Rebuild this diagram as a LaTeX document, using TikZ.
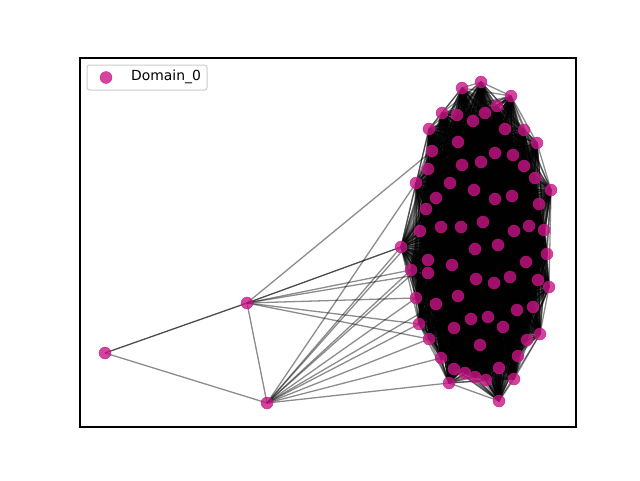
\documentclass[tikz,border=0pt]{standalone}
\usepackage{fontspec}
\setmainfont{DejaVu Sans}
\definecolor{nodec}{HTML}{C71585}
\begin{document}
\begin{tikzpicture}[x=1pt,y=-1pt,
  edge/.style={black,opacity=0.45,line width=1.3pt},
  darkedge/.style={black,opacity=0.7,line width=1.3pt},
  vert/.style={circle,fill=nodec,fill opacity=0.8,draw=nodec,draw opacity=0.8,inner sep=0pt,minimum size=12pt},
  frame/.style={draw=black,line width=1.1pt}]
\useasboundingbox (0,0) rectangle (640,480);
% cluster coordinates
\foreach \k/\x/\y in {1/481/82,2/462/88,3/511/96,4/497/106,5/442/113,6/457/115,7/485/113,8/473/121,9/429/129,10/505/129,11/524/130,12/537/143,13/458/142,14/432/151,15/495/153,16/513/155,17/462/165,18/481/162,19/524/166,20/428/169,21/535/178,22/416/183,23/450/183,24/474/190,25/551/190,26/436/198,27/495/199,28/512/196,29/539/204,30/426/209,31/420/231,32/441/227,33/461/227,34/483/222,35/514/231,36/529/226,37/544/230,38/401/247,39/475/249,40/498/245,41/547/254,42/526/262,43/428/260,44/452/265,45/411/270,46/428/273,47/476/279,48/494/283,49/510/277,50/538/280,51/549/287,52/416/298,53/458/296,54/436/304,55/517/310,56/533/307,57/471/319,58/488/317,59/503/327,60/419/324,61/454/328,62/540/334,63/429/339,64/527/340,65/480/345,66/441/358,67/518/356,68/454/369,69/499/368,70/465/373,71/475/377,72/486/380,73/514/379,74/449/383,75/499/401}
  {\coordinate (c\k) at (\x,\y);}
\coordinate (ca) at (105,353);
\coordinate (cb) at (247,303);
\coordinate (cc) at (267,403);
% cluster edges (near-complete)
\foreach \i in {1,...,74}{
  \pgfmathtruncatemacro\s{\i+1}
  \foreach \j in {\s,...,75}{\draw[edge] (c\i) -- (c\j);}
}
% outlier edges
\draw[darkedge] (ca) -- (cb);
\draw[darkedge] (cb) -- (c38);
\draw[edge] (ca) -- (cc);
\draw[edge] (cb) -- (cc);
\foreach \t in {14,45,46,52,60,63}{\draw[edge] (cb) -- (c\t);}
\foreach \t in {22,38,31,43,45,52,54,60,63,66,74}{\draw[edge] (cc) -- (c\t);}
% nodes
\foreach \k in {1,...,75}{\node[vert] (n\k) at (c\k) {};}
\node[vert] (na) at (ca) {};
\node[vert] (nb) at (cb) {};
\node[vert] (nc) at (cc) {};
% axes frame
\draw[frame] (80,58) rectangle (576,427);
% legend
\draw[draw=black!20,fill=white,fill opacity=0.8,line width=1pt,rounded corners=2.5pt] (87,65) rectangle (207,90);
\node[vert] (legm) at (106,77.5) {};
\node[anchor=west,inner sep=0pt,font=\fontsize{13.9}{16}\selectfont] (legt) at (131,77) {Domain\_0};
\end{tikzpicture}
\end{document}
